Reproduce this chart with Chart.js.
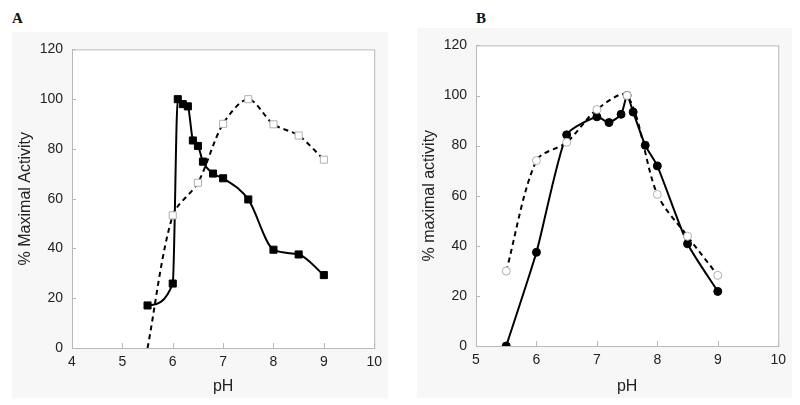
<!DOCTYPE html>
<html>
<head>
<meta charset="utf-8">
<script src="https://cdn.jsdelivr.net/npm/chart.js@4/dist/chart.umd.min.js"></script>
<style>
  body { margin:0; background:#fff; width:800px; height:405px; position:relative; overflow:hidden; }
  .panel { position:absolute; background:#f7f7f7; }
  .tag { position:absolute; font-family:"Liberation Serif", serif; font-weight:bold; font-size:15px; color:#111; }
</style>
</head>
<body>
<div class="tag" style="left:12px;top:10px;">A</div>
<div class="tag" style="left:476px;top:10px;">B</div>
<div class="panel" style="left:12px;top:32px;width:376px;height:366px;"><canvas id="chartA" width="376" height="366"></canvas></div>
<div class="panel" style="left:417px;top:28px;width:375px;height:370px;"><canvas id="chartB" width="375" height="370"></canvas></div>
<script>
// panel A
var phA1 = [5.5, 6.0, 6.1, 6.2, 6.3, 6.4, 6.5, 6.6, 6.8, 7.0, 7.5, 8.0, 8.5, 9.0];
var actA1 = [17.1, 25.9, 100, 98, 97.1, 83.4, 81.2, 74.9, 70.1, 68.2, 59.7, 39.5, 37.6, 29.3];
var phA2 = [5.5, 6.0, 6.5, 7.0, 7.5, 8.0, 8.5, 9.0];
var actA2 = [0, 53.3, 66.4, 90.1, 100, 89.9, 85.4, 75.7];
var xTicksA = [4, 10];

// panel B
var phB1 = [5.5, 6.0, 6.5, 7.0, 7.2, 7.4, 7.5, 7.6, 7.8, 8.0, 8.5, 9.0];
var actB1 = [0, 37.4, 84.3, 91.5, 89.2, 92.5, 100, 93.4, 80.1, 71.9, 40.8, 21.8];
var phB2 = [5.5, 6.0, 6.5, 7.0, 7.5, 8.0, 8.5, 9.0];
var actB2 = [29.9, 74, 81.3, 94.4, 100, 60.5, 43.8, 28.2];
var xTicksB = [5, 10];

var yTicks = [0, 120, 20];

function toPoints(xs, ys){
  var pts = [];
  for (var i = 0; i < xs.length; i++) pts.push({x: xs[i], y: ys[i]});
  return pts;
}

// white plot box, grey frame and short inward tick marks
var framePlugin = {
  id: 'frame',
  beforeDatasetsDraw: function(chart){
    var ctx = chart.ctx, a = chart.chartArea;
    var sx = chart.scales.x, sy = chart.scales.y;
    ctx.save();
    ctx.fillStyle = '#ffffff';
    ctx.fillRect(a.left, a.top, a.right - a.left, a.bottom - a.top);
    ctx.strokeStyle = '#b8b8b8';
    ctx.lineWidth = 1;
    ctx.strokeRect(a.left + 0.5, a.top + 0.5, a.right - a.left, a.bottom - a.top);
    ctx.beginPath();
    sx.ticks.forEach(function(t){
      var px = Math.round(sx.getPixelForValue(t.value)) + 0.5;
      ctx.moveTo(px, a.bottom); ctx.lineTo(px, a.bottom - 5);
    });
    sy.ticks.forEach(function(t){
      var py = Math.round(sy.getPixelForValue(t.value)) + 0.5;
      ctx.moveTo(a.left, py); ctx.lineTo(a.left + 4, py);
    });
    ctx.stroke();
    ctx.restore();
  }
};

function lineStyle(set, smooth){
  if (smooth == 'monotone') set.cubicInterpolationMode = 'monotone';
  else set.tension = smooth;
  return set;
}

function buildChart(id, xr, solid, dashed, marker, yTitle, dims){
  var font = '"Liberation Sans", Arial, sans-serif';
  var r = marker == 'rect' ? 5 : 4;
  var solidSet = lineStyle({
    data: solid,
    borderColor: '#000',
    borderWidth: 2,
    pointStyle: marker,
    pointRadius: r,
    pointBackgroundColor: '#000',
    pointBorderColor: '#000',
    pointBorderWidth: 1
  }, dims.solidSmooth);
  var dashedSet = lineStyle({
    data: dashed,
    borderColor: '#000',
    borderWidth: 2,
    borderDash: [5, 4],
    pointStyle: marker,
    pointRadius: dashed.map(function(p){ return p.y <= 0 ? 0 : r; }),
    pointBackgroundColor: '#fff',
    pointBorderColor: '#b0b0b0',
    pointBorderWidth: 1
  }, dims.dashSmooth);
  return new Chart(document.getElementById(id), {
    type: 'line',
    data: { datasets: [dashedSet, solidSet] },
    options: {
      responsive: false,
      animation: false,
      clip: 0,
      layout: { padding: { top: dims.top, right: 12, left: 0, bottom: 0 } },
      plugins: { legend: { display: false }, tooltip: { enabled: false } },
      scales: {
        x: {
          type: 'linear',
          min: xr[0], max: xr[1],
          grid: { display: false, drawTicks: false },
          border: { display: false },
          ticks: { stepSize: 1, padding: 6, color: '#222', font: { family: font, size: 14 } },
          title: { display: true, text: 'pH', color: '#222', padding: { top: 0, bottom: 2 }, font: { family: font, size: 16 } },
          afterFit: function(s){ s.height = dims.xh; }
        },
        y: {
          min: yTicks[0], max: yTicks[1],
          grid: { display: false, drawTicks: false },
          border: { display: false },
          ticks: { stepSize: yTicks[2], padding: 9, color: '#222', font: { family: font, size: 14 } },
          title: { display: true, text: yTitle, color: '#222', padding: { top: dims.tp, bottom: 0 }, font: { family: font, size: 16 } },
          afterFit: function(s){ s.width = dims.yw; }
        }
      }
    },
    plugins: [framePlugin]
  });
}

buildChart('chartA', xTicksA, toPoints(phA1, actA1), toPoints(phA2, actA2), 'rect',
  '% Maximal Activity', { top: 12, xh: 50, yw: 60, tp: 4, solidSmooth: 'monotone', dashSmooth: 0.3 });
buildChart('chartB', xTicksB, toPoints(phB1, actB1), toPoints(phB2, actB2), 'circle',
  '% maximal activity', { top: 13, xh: 52, yw: 59, tp: 3, solidSmooth: 0.2, dashSmooth: 0.3 });
</script>
</body>
</html>
